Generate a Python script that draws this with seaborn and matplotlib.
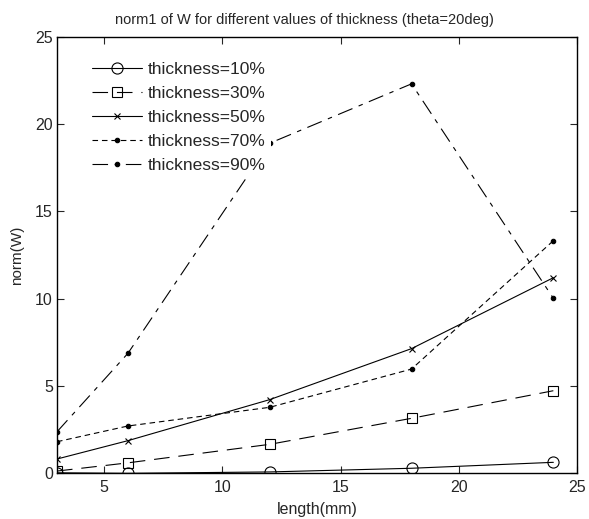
import numpy as np
import pandas as pd
import matplotlib
matplotlib.use("Agg")
import matplotlib.pyplot as plt
import seaborn as sns

# lengths (mm) and norm(W) per thickness
length_mm = [3, 6, 12, 18, 24]
thickness_labels = ["thickness=10%", "thickness=30%", "thickness=50%",
                    "thickness=70%", "thickness=90%"]
norm_10 = [0.03, 0.0, 0.08, 0.29, 0.63]
norm_30 = [0.13, 0.6, 1.66, 3.15, 4.73]
norm_50 = [0.82, 1.87, 4.22, 7.14, 11.2]
norm_70 = [1.81, 2.71, 3.78, 5.97, 13.32]
norm_90 = [2.38, 6.87, 18.9, 22.3, 10.02]

sns.set_style("ticks")
plt.rcParams["font.family"] = ["Liberation Sans", "DejaVu Sans"]

fig = plt.figure(figsize=(5.89, 5.19), dpi=100)
ax = fig.add_axes([0.0968, 0.088, 0.8828, 0.8413])

styles = [
    dict(marker="o", ms=8, mfc="none", ls="-"),
    dict(marker="s", ms=7.5, mfc="none", ls=(0, (14, 8))),
    dict(marker="x", ms=4, mfc="none", ls="-"),
    dict(marker="o", ms=3.2, mfc="k", ls=(0, (5, 3.5))),
    dict(marker="o", ms=3.2, mfc="k", ls=(0, (14, 6, 4, 6))),
]
series = [norm_10, norm_30, norm_50, norm_70, norm_90]

for vals, lab, st in zip(series, thickness_labels, styles):
    sns.lineplot(x=length_mm, y=vals, ax=ax, color="k", lw=0.8,
                 marker=st["marker"], markersize=st["ms"],
                 markerfacecolor=st["mfc"], markeredgecolor="k",
                 markeredgewidth=0.8, linestyle=st["ls"], label=lab,
                 legend=False)

ax.set_xlim(3, 25)
ax.set_ylim(0, 25)
ax.set_xticks([5, 10, 15, 20, 25])
ax.set_yticks([0, 5, 10, 15, 20, 25])
ax.tick_params(direction="in", top=True, right=True, length=5, width=0.8,
               labelsize=11.5)
ax.tick_params(axis="x", pad=5)
ax.tick_params(axis="y", pad=3)
for sp in ax.spines.values():
    sp.set_visible(True)
    sp.set_linewidth(1.0)
    sp.set_color("k")

ax.set_title("norm1 of W for different values of thickness (theta=20deg)",
             fontsize=10.5, pad=9, x=0.475)
ax.set_xlabel("length(mm)", fontsize=11.5, labelpad=5)
ax.set_ylabel("norm(W)", fontsize=11, labelpad=8)

leg = ax.legend(loc="upper left", bbox_to_anchor=(0.04, 0.975), fontsize=12.5,
                frameon=True, facecolor="white", edgecolor="none",
                framealpha=1, handlelength=2.9, labelspacing=0.52,
                handletextpad=0.35, borderpad=0.3)

fig.savefig("out.png", dpi=100)
